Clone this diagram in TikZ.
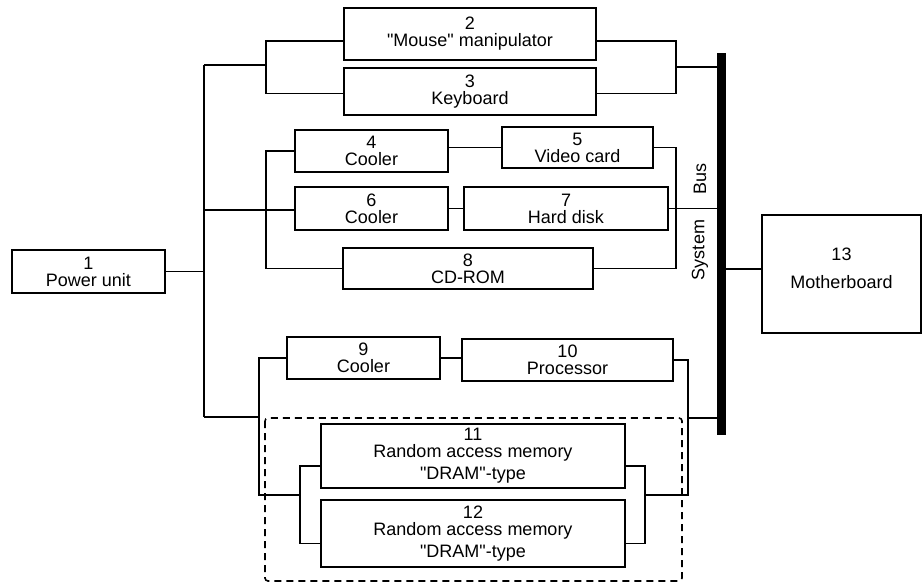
\documentclass[tikz,border=0pt]{standalone}
\usepackage{fontspec}
\setmainfont{Liberation Sans}[Ligatures=TeXOff]

\begin{document}
\begin{tikzpicture}[
    x=1pt, y=-1pt,
    every node/.style={font=\fontsize{18}{17}\selectfont},
    unit/.style={draw, line width=2.2pt, inner sep=0pt, align=center},
    wire/.style={line width=1.6pt},
    frame/.style={line width=1.6pt, dash pattern=on 7pt off 5pt,
                  rounded corners=3pt},
    busbar/.style={fill, inner sep=0pt, minimum width=9pt,
                   minimum height=382pt},
    buslabel/.style={rotate=90},
    ]
\useasboundingbox (0,0) rectangle (924,583);

% ====================================================================
% Units
% ====================================================================
\node[unit, minimum width=153pt, minimum height=43pt] (b1) at (88.5,271.5)
  {1\\Power unit};
\node[unit, minimum width=252pt, minimum height=52pt] (b2) at (470,34)
  {2\\"Mouse" manipulator};
\node[unit, minimum width=252pt, minimum height=47pt] (b3) at (470,91.5)
  {3\\Keyboard};
\node[unit, minimum width=153pt, minimum height=42pt] (b4) at (371.5,151)
  {4\\Cooler};
\node[unit, minimum width=151pt, minimum height=41pt] (b5) at (577.5,147.5)
  {5\\Video card};
\node[unit, minimum width=153pt, minimum height=43pt] (b6) at (371.5,208.5)
  {6\\Cooler};
\node[unit, minimum width=204pt, minimum height=43pt] (b7) at (566,208.5)
  {7\\Hard disk};
\node[unit, minimum width=250pt, minimum height=41pt] (b8) at (468,268.5)
  {8\\CD-ROM};
\node[unit, minimum width=153pt, minimum height=42pt] (b9) at (363.5,358)
  {9\\Cooler};
\node[unit, minimum width=211pt, minimum height=42pt] (b10) at (567.5,360)
  {10\\Processor};
\node[unit, minimum width=304pt, minimum height=64pt] (b11) at (473,456)
  {11\\Random access memory\\[5pt]"DRAM"-type};
\node[unit, minimum width=304pt, minimum height=67pt] (b12) at (473,533.5)
  {12\\Random access memory\\[5pt]"DRAM"-type};
\node[unit, minimum width=159pt, minimum height=118pt] (b13) at (841.5,274)
  {13\\[11pt]Motherboard\\[-5pt]\mbox{}};

% System bus
\node[busbar] (bus) at (721.5,244) {};
\node[buslabel] (lbus) at (700,179) {Bus};
\node[buslabel] (lsys) at (700,250) {System};

% Memory group frame
\draw[frame] (265,418) rectangle (682,581);

% ====================================================================
% Power feed (left) and bus taps (right)
% ====================================================================
\coordinate (tTop) at (204,65);
\coordinate (tBot) at (204,417);
\coordinate (gL1) at (266,65);
\coordinate (gR1) at (676,67);
\coordinate (gL2) at (266,210);
\coordinate (gR2) at (676,210);
\coordinate (gL3) at (259,417);
\coordinate (gR3) at (688,418);
\coordinate (dL) at (300,495);
\coordinate (dR) at (645,495);

\draw[wire] (b1.east) -- (b1.east -| tTop);
\draw[wire] (tTop) -- (tBot);

% input devices
\draw[wire] (tTop) -- (gL1);
\draw[wire] ([yshift=-7pt]b2.west) -| (gL1) |- ([yshift=-2pt]b3.west);
\draw[wire] ([yshift=-7pt]b2.east) -| (gR1) |- ([yshift=-2pt]b3.east);
\draw[wire] (gR1) -- (gR1 -| bus.west);

% video, disks
\draw[wire] (gL2 -| tTop) -- (b6.west |- gL2);
\draw[wire] (b4.west) -| (gL2) |- (b8.west);
\draw[wire] (b5.west -| b4.east) -- (b5.west);
\draw[wire] (b6.east) -- (b7.west);
\draw[wire] (b5.east) -| (gR2) |- (b8.east);
\draw[wire] (b7.east) -- (b7.east -| bus.west);

% processor, memory
\draw[wire] (tBot) -- (gL3);
\draw[wire] (b9.west) -| (gL3) |- (dL);
\draw[wire] (b9.east) -- (b9.east -| b10.west);
\draw[wire] (b10.east) -| (gR3) |- (dR);
\draw[wire] (gR3) -- (gR3 -| bus.west);
\draw[wire] ([yshift=-10pt]b11.west) -| (dL) |- ([yshift=-10pt]b12.west);
\draw[wire] ([yshift=-10pt]b11.east) -| (dR) |- ([yshift=-10pt]b12.east);

% motherboard
\draw[wire] ([yshift=5pt]b13.west) -- ([yshift=5pt]b13.west -| bus.east);

\end{tikzpicture}
\end{document}
